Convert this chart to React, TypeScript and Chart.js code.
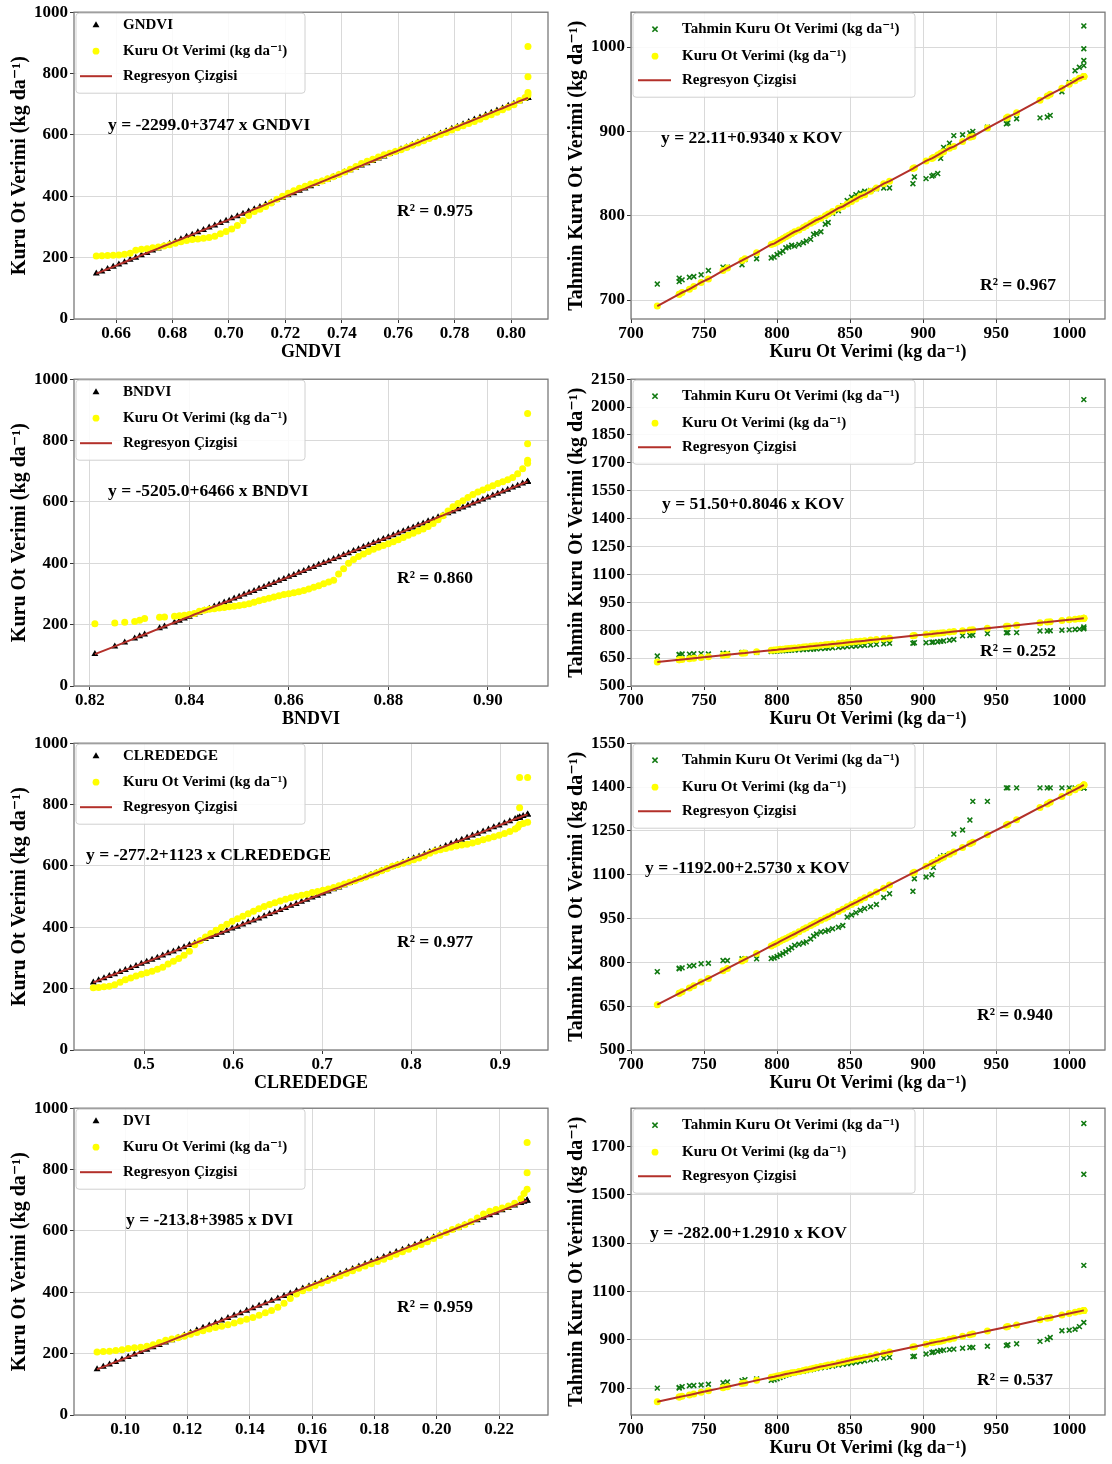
import React, { useEffect, useRef } from "react";
import { Chart, registerables } from "chart.js";

Chart.register(...registerables);

// ---------------- data ----------------
// Left column: vegetation index (sorted) vs predicted (on regression line) and observed dry hay yield (sorted)
const gndvi = [0.653, 0.655, 0.657, 0.659, 0.661, 0.663, 0.665, 0.667, 0.669, 0.671,
  0.673, 0.675, 0.677, 0.679, 0.681, 0.683, 0.685, 0.687, 0.689, 0.691,
  0.693, 0.695, 0.697, 0.699, 0.701, 0.703, 0.705, 0.707, 0.709, 0.711,
  0.713, 0.715, 0.717, 0.719, 0.721, 0.723, 0.725, 0.727, 0.729, 0.731,
  0.733, 0.735, 0.737, 0.739, 0.741, 0.743, 0.745, 0.747, 0.749, 0.751,
  0.753, 0.755, 0.757, 0.759, 0.761, 0.763, 0.765, 0.767, 0.769, 0.771,
  0.773, 0.775, 0.777, 0.779, 0.781, 0.783, 0.785, 0.787, 0.789, 0.791,
  0.793, 0.795, 0.797, 0.799, 0.801, 0.803, 0.805, 0.806, 0.806, 0.806,
  0.806];
const gndviPredicted = [148, 155, 163, 170, 178, 185, 193, 200, 208, 215,
  223, 230, 238, 245, 253, 260, 268, 275, 283, 290,
  298, 305, 313, 320, 328, 335, 343, 350, 358, 365,
  373, 380, 388, 395, 403, 410, 418, 425, 433, 440,
  448, 455, 463, 470, 478, 485, 493, 500, 508, 515,
  523, 530, 538, 545, 553, 560, 568, 575, 583, 590,
  597, 605, 612, 620, 627, 635, 642, 650, 657, 665,
  672, 680, 687, 695, 702, 710, 717, 721, 721, 721,
  721];
const gndviObserved = [205, 206, 207, 208, 209, 211, 214, 224, 227, 229,
  232, 235, 238, 242, 247, 252, 256, 259, 261, 263,
  266, 270, 278, 285, 293, 305, 320, 337, 350, 358,
  367, 378, 390, 400, 410, 418, 426, 433, 440, 445,
  450, 457, 464, 471, 479, 488, 497, 507, 514, 521,
  528, 535, 540, 546, 552, 559, 566, 574, 581, 588,
  595, 601, 608, 616, 623, 630, 637, 644, 651, 659,
  666, 674, 682, 690, 698, 712, 722, 730, 738, 790,
  888];

const bndvi = [0.821, 0.825, 0.827, 0.829, 0.830, 0.831, 0.834, 0.835, 0.837, 0.838,
  0.839, 0.840, 0.841, 0.842, 0.843, 0.844, 0.845, 0.846, 0.847, 0.848,
  0.849, 0.850, 0.851, 0.852, 0.853, 0.854, 0.855, 0.856, 0.857, 0.858,
  0.859, 0.860, 0.861, 0.862, 0.863, 0.864, 0.865, 0.866, 0.867, 0.868,
  0.869, 0.870, 0.871, 0.872, 0.873, 0.874, 0.875, 0.876, 0.877, 0.878,
  0.879, 0.880, 0.881, 0.882, 0.883, 0.884, 0.885, 0.886, 0.887, 0.888,
  0.889, 0.890, 0.891, 0.892, 0.893, 0.894, 0.895, 0.896, 0.897, 0.898,
  0.899, 0.900, 0.901, 0.902, 0.903, 0.904, 0.905, 0.906, 0.907, 0.908,
  0.908, 0.908, 0.908];
const bndviPredicted = [104, 129, 142, 155, 162, 168, 188, 194, 207, 213,
  220, 226, 233, 239, 246, 252, 259, 265, 272, 278,
  285, 291, 298, 304, 310, 317, 323, 330, 336, 343,
  349, 356, 362, 369, 375, 382, 388, 395, 401, 407,
  414, 420, 427, 433, 440, 446, 453, 459, 466, 472,
  479, 485, 491, 498, 504, 511, 517, 524, 530, 537,
  543, 550, 556, 563, 569, 576, 582, 588, 595, 601,
  608, 614, 621, 627, 634, 640, 647, 653, 660, 666,
  666, 666, 666];
const bndviObserved = [203, 205, 208, 210, 214, 220, 224, 225, 227, 229,
  231, 233, 236, 244, 247, 250, 252, 254, 256, 258,
  260, 262, 265, 268, 273, 278, 282, 286, 290, 294,
  298, 301, 304, 307, 311, 316, 322, 327, 333, 339,
  345, 365, 382, 400, 412, 422, 430, 438, 446, 452,
  458, 464, 470, 477, 484, 491, 498, 505, 512, 520,
  530, 542, 555, 570, 584, 595, 604, 614, 624, 632,
  639, 646, 653, 660, 666, 672, 680, 692, 708, 726,
  736, 790, 888];

const clrededge = [0.443, 0.449, 0.455, 0.461, 0.467, 0.473, 0.479, 0.485, 0.491, 0.497,
  0.503, 0.509, 0.515, 0.521, 0.527, 0.533, 0.539, 0.545, 0.551, 0.557,
  0.563, 0.569, 0.575, 0.581, 0.587, 0.593, 0.599, 0.605, 0.611, 0.617,
  0.623, 0.629, 0.635, 0.641, 0.647, 0.653, 0.659, 0.665, 0.671, 0.677,
  0.683, 0.689, 0.695, 0.701, 0.707, 0.713, 0.719, 0.725, 0.731, 0.737,
  0.743, 0.749, 0.755, 0.761, 0.767, 0.773, 0.779, 0.785, 0.791, 0.797,
  0.803, 0.809, 0.815, 0.821, 0.827, 0.833, 0.839, 0.845, 0.851, 0.857,
  0.863, 0.869, 0.875, 0.881, 0.887, 0.893, 0.899, 0.905, 0.911, 0.917,
  0.920, 0.922, 0.922, 0.922, 0.926, 0.931, 0.931];
const clrededgePredicted = [220, 227, 234, 241, 247, 254, 261, 267, 274, 281,
  288, 294, 301, 308, 315, 321, 328, 335, 342, 348,
  355, 362, 369, 375, 382, 389, 396, 402, 409, 416,
  422, 429, 436, 443, 449, 456, 463, 470, 476, 483,
  490, 497, 503, 510, 517, 524, 530, 537, 544, 551,
  557, 564, 571, 577, 584, 591, 598, 604, 611, 618,
  625, 631, 638, 645, 652, 658, 665, 672, 679, 685,
  692, 699, 705, 712, 719, 726, 732, 739, 746, 753,
  756, 758, 758, 758, 763, 768, 768];
const clrededgeObserved = [203, 204, 206, 208, 213, 221, 229, 235, 241, 247,
  252, 257, 263, 270, 280, 289, 298, 309, 322, 343,
  356, 368, 380, 390, 400, 410, 420, 428, 436, 444,
  452, 460, 468, 474, 480, 486, 491, 496, 500, 504,
  508, 513, 517, 521, 525, 530, 535, 541, 547, 552,
  558, 564, 570, 577, 584, 591, 599, 604, 609, 614,
  620, 626, 632, 641, 649, 653, 657, 661, 665, 668,
  671, 675, 680, 685, 690, 695, 700, 706, 712, 720,
  726, 735, 790, 888, 738, 742, 888];

const dvi = [0.091, 0.093, 0.095, 0.097, 0.099, 0.101, 0.103, 0.105, 0.107, 0.109,
  0.111, 0.113, 0.115, 0.117, 0.119, 0.121, 0.123, 0.125, 0.127, 0.129,
  0.131, 0.133, 0.135, 0.137, 0.139, 0.141, 0.143, 0.145, 0.147, 0.149,
  0.151, 0.153, 0.155, 0.157, 0.159, 0.161, 0.163, 0.165, 0.167, 0.169,
  0.171, 0.173, 0.175, 0.177, 0.179, 0.181, 0.183, 0.185, 0.187, 0.189,
  0.191, 0.193, 0.195, 0.197, 0.199, 0.201, 0.203, 0.205, 0.207, 0.209,
  0.211, 0.213, 0.215, 0.217, 0.219, 0.221, 0.223, 0.225, 0.227, 0.228,
  0.229, 0.229, 0.229];
const dviPredicted = [149, 157, 165, 173, 181, 189, 197, 205, 213, 221,
  228, 236, 244, 252, 260, 268, 276, 284, 292, 300,
  308, 316, 324, 332, 340, 348, 356, 364, 372, 380,
  388, 396, 404, 412, 420, 428, 436, 444, 452, 460,
  468, 476, 484, 492, 500, 507, 515, 523, 531, 539,
  547, 555, 563, 571, 579, 587, 595, 603, 611, 619,
  627, 635, 643, 651, 659, 667, 675, 683, 691, 695,
  699, 699, 699];
const dviObserved = [205, 207, 208, 210, 213, 217, 219, 221, 224, 229,
  236, 244, 248, 252, 257, 263, 269, 275, 280, 285,
  289, 294, 300, 306, 312, 318, 325, 333, 341, 351,
  364, 380, 394, 405, 414, 422, 430, 438, 446, 454,
  462, 470, 478, 486, 493, 500, 508, 516, 524, 532,
  540, 548, 556, 565, 575, 585, 595, 605, 613, 620,
  630, 642, 655, 664, 670, 675, 681, 690, 705, 722,
  736, 790, 888];

// Right column: actual dry hay yield (KOV) vs model estimate and regression fit
const kovActual = [718, 733, 733, 735, 740, 743, 748, 753, 763, 766,
  776, 778, 786, 796, 798, 800, 802, 804, 806, 808,
  810, 812, 815, 818, 820, 823, 825, 827, 830, 833,
  835, 838, 842, 845, 848, 851, 854, 857, 860, 864,
  868, 873, 877, 893, 894, 902, 906, 907, 910, 912,
  914, 918, 921, 927, 932, 934, 944, 957, 958, 964,
  980, 985, 987, 995, 1000, 1004, 1007, 1010, 1010, 1010,
  1010];

const estGNDVI = [719, 726, 722, 724, 727, 728, 730, 735, 739, 739,
  742, 748, 749, 750, 751, 754, 756, 758, 762, 763,
  765, 764, 766, 768, 770, 772, 778, 779, 781, 790,
  792, 803, 806, 812, 818, 822, 825, 827, 829, 830,
  832, 833, 833, 838, 846, 844, 847, 848, 850, 868,
  881, 886, 895, 896, 898, 900, 905, 909, 910, 915,
  916, 917, 919, 947, 958, 972, 976, 978, 984, 998,
  1025];
const fitGNDVI = [693, 707, 707, 709, 713, 716, 721, 725, 735, 738,
  747, 749, 756, 766, 767, 769, 771, 773, 775, 777,
  779, 781, 783, 786, 788, 791, 793, 795, 797, 800,
  802, 805, 809, 811, 814, 817, 820, 823, 825, 829,
  833, 838, 841, 856, 857, 865, 868, 869, 872, 874,
  876, 880, 882, 888, 893, 894, 904, 916, 917, 922,
  937, 942, 944, 951, 956, 960, 963, 965, 965, 965,
  965];

const estBNDVI = [661, 670, 668, 672, 671, 673, 674, 672, 676, 675,
  680, 679, 681, 686, 687, 688, 689, 690, 691, 692,
  693, 694, 695, 696, 697, 698, 699, 700, 701, 703,
  704, 706, 708, 710, 712, 713, 715, 717, 719, 721,
  724, 727, 730, 730, 733, 733, 735, 736, 738, 740,
  742, 746, 750, 770, 772, 774, 782, 786, 787, 787,
  796, 796, 797, 800, 802, 804, 806, 808, 812, 818,
  2040];
const fitBNDVI = [629, 641, 641, 643, 647, 649, 653, 657, 665, 668,
  676, 677, 684, 692, 694, 695, 697, 698, 700, 702,
  703, 705, 707, 710, 711, 714, 715, 717, 719, 722,
  723, 726, 729, 731, 734, 736, 739, 741, 743, 747,
  750, 754, 757, 770, 771, 777, 780, 781, 784, 785,
  787, 790, 793, 797, 801, 803, 811, 821, 822, 827,
  840, 844, 846, 852, 856, 859, 862, 864, 864, 864,
  864];

const estCLREDEDGE = [768, 780, 778, 781, 787, 789, 795, 797, 806, 806,
  812, 812, 812, 813, 815, 820, 825, 830, 836, 843,
  850, 858, 862, 866, 870, 880, 890, 897, 904, 906,
  910, 915, 920, 926, 955, 962, 970, 978, 984, 990,
  998, 1022, 1035, 1043, 1086, 1092, 1100, 1125, 1150, 1160,
  1165, 1170, 1239, 1253, 1287, 1351, 1351, 1397, 1397, 1397,
  1397, 1397, 1397, 1397, 1397, 1397, 1397, 1397, 1397, 1397,
  1397];
const fitCLREDEDGE = [655, 694, 694, 699, 712, 720, 733, 745, 771, 779,
  805, 810, 830, 856, 861, 866, 872, 877, 882, 887,
  892, 897, 905, 913, 918, 926, 931, 936, 944, 951,
  956, 964, 974, 982, 990, 998, 1005, 1013, 1021, 1031,
  1041, 1054, 1065, 1106, 1108, 1129, 1139, 1142, 1149, 1155,
  1160, 1170, 1178, 1193, 1206, 1211, 1237, 1270, 1273, 1288,
  1330, 1342, 1348, 1368, 1381, 1391, 1399, 1407, 1407, 1407,
  1407];

const estDVI = [701, 701, 704, 707, 711, 712, 714, 717, 723, 726,
  732, 736, 739, 733, 735, 740, 745, 750, 755, 758,
  762, 765, 768, 771, 774, 777, 780, 782, 785, 788,
  790, 792, 796, 799, 802, 805, 808, 811, 814, 818,
  821, 825, 828, 831, 833, 842, 848, 850, 853, 856,
  858, 860, 862, 866, 869, 869, 874, 877, 880, 884,
  894, 902, 910, 938, 940, 944, 955, 972, 1208, 1584,
  1794];
const fitDVI = [645, 664, 664, 667, 673, 677, 684, 690, 703, 707,
  720, 722, 733, 746, 748, 751, 753, 756, 759, 761,
  764, 766, 770, 774, 777, 780, 783, 786, 790, 793,
  796, 800, 805, 809, 813, 817, 821, 824, 828, 833,
  839, 845, 850, 871, 872, 882, 888, 889, 893, 895,
  898, 903, 907, 915, 921, 924, 937, 953, 955, 962,
  983, 990, 992, 1003, 1009, 1014, 1018, 1022, 1022, 1022,
  1022];

// tick labels
const yieldTicks = [0, 200, 400, 600, 800, 1000];
const gndviTicks = [0.66, 0.68, 0.70, 0.72, 0.74, 0.76, 0.78, 0.80];
const bndviTicks = [0.82, 0.84, 0.86, 0.88, 0.90];
const clrededgeTicks = [0.5, 0.6, 0.7, 0.8, 0.9];
const dviTicks = [0.10, 0.12, 0.14, 0.16, 0.18, 0.20, 0.22];
const kovTicks = [700, 750, 800, 850, 900, 950, 1000];
const estGNDVITicks = [700, 800, 900, 1000];
const estBNDVITicks = [500, 650, 800, 950, 1100, 1250, 1400, 1550, 1700, 1850, 2000, 2150];
const estCLREDEDGETicks = [500, 650, 800, 950, 1100, 1250, 1400, 1550];
const estDVITicks = [700, 900, 1100, 1300, 1500, 1700];

// ---------------- styling / layout ----------------
const FONT = "'Liberation Serif', 'Times New Roman', 'DejaVu Serif', serif";
const YELLOW = "#ffff00";
const GREEN = "#127a12";
const RED = "#b3302a";
const GRID = "#d9d9d9";
const FRAME = "#7a7a7a";
const W = 556;
const H = 366;
const ROW_TOPS = [0, 367, 731, 1096];
const LEFT_AREA = { left: 74, right: 548, top: 11, bottom: 319 };
const RIGHT_AREA = { left: 75, right: 549, top: 11, bottom: 319 };
const OBS_LABEL = "Kuru Ot Verimi (kg da\u207B\u00B9)";
const EST_LABEL = "Tahmin Kuru Ot Verimi (kg da\u207B\u00B9)";
const LINE_LABEL = "Regresyon \u00C7izgisi";

type Kind = "index" | "kov";
interface PanelSpec {
  x: number;
  y: number;
  kind: Kind;
  xs: number[];
  a: number[];
  b: number[];
  xRange: [number, number];
  yRange: [number, number];
  xTicks: number[];
  yTicks: number[];
  xDec: number;
  xTitle: string;
  yTitle: string;
  firstLabel: string;
  eq: string;
  r2: string;
  eqAt: [number, number];
  r2At: [number, number];
}

const PANELS: PanelSpec[] = [
  {
    x: 0, y: ROW_TOPS[0], kind: "index", xs: gndvi, a: gndviPredicted, b: gndviObserved,
    xRange: [0.6451, 0.8131], yRange: [0, 1000], xTicks: gndviTicks, yTicks: yieldTicks, xDec: 2,
    xTitle: "GNDVI", yTitle: OBS_LABEL, firstLabel: "GNDVI",
    eq: "y = -2299.0+3747 x GNDVI", r2: "R\u00B2 = 0.975", eqAt: [34, 113], r2At: [323, 199],
  },
  {
    x: W, y: ROW_TOPS[0], kind: "kov", xs: kovActual, a: estGNDVI, b: fitGNDVI,
    xRange: [700, 1024.5], yRange: [677.6, 1041.3], xTicks: kovTicks, yTicks: estGNDVITicks, xDec: 0,
    xTitle: OBS_LABEL, yTitle: EST_LABEL, firstLabel: EST_LABEL,
    eq: "y = 22.11+0.9340 x KOV", r2: "R\u00B2 = 0.967", eqAt: [30, 126], r2At: [349, 273],
  },
  {
    x: 0, y: ROW_TOPS[1], kind: "index", xs: bndvi, a: bndviPredicted, b: bndviObserved,
    xRange: [0.8168, 0.9121], yRange: [0, 1000], xTicks: bndviTicks, yTicks: yieldTicks, xDec: 2,
    xTitle: "BNDVI", yTitle: OBS_LABEL, firstLabel: "BNDVI",
    eq: "y = -5205.0+6466 x BNDVI", r2: "R\u00B2 = 0.860", eqAt: [34, 112], r2At: [323, 199],
  },
  {
    x: W, y: ROW_TOPS[1], kind: "kov", xs: kovActual, a: estBNDVI, b: fitBNDVI,
    xRange: [700, 1024.5], yRange: [500, 2150], xTicks: kovTicks, yTicks: estBNDVITicks, xDec: 0,
    xTitle: OBS_LABEL, yTitle: EST_LABEL, firstLabel: EST_LABEL,
    eq: "y = 51.50+0.8046 x KOV", r2: "R\u00B2 = 0.252", eqAt: [31, 125], r2At: [349, 272],
  },
  {
    x: 0, y: ROW_TOPS[2], kind: "index", xs: clrededge, a: clrededgePredicted, b: clrededgeObserved,
    xRange: [0.4213, 0.9539], yRange: [0, 1000], xTicks: clrededgeTicks, yTicks: yieldTicks, xDec: 1,
    xTitle: "CLREDEDGE", yTitle: OBS_LABEL, firstLabel: "CLREDEDGE",
    eq: "y = -277.2+1123 x CLREDEDGE", r2: "R\u00B2 = 0.977", eqAt: [12, 112], r2At: [323, 199],
  },
  {
    x: W, y: ROW_TOPS[2], kind: "kov", xs: kovActual, a: estCLREDEDGE, b: fitCLREDEDGE,
    xRange: [700, 1024.5], yRange: [500, 1550], xTicks: kovTicks, yTicks: estCLREDEDGETicks, xDec: 0,
    xTitle: OBS_LABEL, yTitle: EST_LABEL, firstLabel: EST_LABEL,
    eq: "y = -1192.00+2.5730 x KOV", r2: "R\u00B2 = 0.940", eqAt: [14, 125], r2At: [346, 272],
  },
  {
    x: 0, y: ROW_TOPS[3], kind: "index", xs: dvi, a: dviPredicted, b: dviObserved,
    xRange: [0.0836, 0.2357], yRange: [0, 1000], xTicks: dviTicks, yTicks: yieldTicks, xDec: 2,
    xTitle: "DVI", yTitle: OBS_LABEL, firstLabel: "DVI",
    eq: "y = -213.8+3985 x DVI", r2: "R\u00B2 = 0.959", eqAt: [52, 112], r2At: [323, 199],
  },
  {
    x: W, y: ROW_TOPS[3], kind: "kov", xs: kovActual, a: estDVI, b: fitDVI,
    xRange: [700, 1024.5], yRange: [590, 1857], xTicks: kovTicks, yTicks: estDVITicks, xDec: 0,
    xTitle: OBS_LABEL, yTitle: EST_LABEL, firstLabel: EST_LABEL,
    eq: "y = -282.00+1.2910 x KOV", r2: "R\u00B2 = 0.537", eqAt: [19, 125], r2At: [346, 272],
  },
];

const LEGEND_GEOM = {
  index: { bx: 2, by: 1, bw: 229, bh: 80, rows: [13, 39, 64], mx: 22, l0: 6, l1: 38, tx: 49 },
  kov: { bx: 2, by: 1, bw: 282, bh: 84, rows: [17, 44, 68], mx: 24, l0: 7, l1: 40, tx: 51 },
};

function roundedRect(ctx: CanvasRenderingContext2D, x: number, y: number, w: number, h: number, r: number) {
  ctx.beginPath();
  ctx.moveTo(x + r, y);
  ctx.lineTo(x + w - r, y);
  ctx.arcTo(x + w, y, x + w, y + r, r);
  ctx.lineTo(x + w, y + h - r);
  ctx.arcTo(x + w, y + h, x + w - r, y + h, r);
  ctx.lineTo(x + r, y + h);
  ctx.arcTo(x, y + h, x, y + h - r, r);
  ctx.lineTo(x, y + r);
  ctx.arcTo(x, y, x + r, y, r);
  ctx.closePath();
}

function decorPlugin(s: PanelSpec) {
  return {
    id: "decor",
    afterDatasetsDraw(chart: any) {
      const ctx: CanvasRenderingContext2D = chart.ctx;
      const a = chart.chartArea;
      const g = LEGEND_GEOM[s.kind];
      ctx.save();
      // axes frame
      ctx.strokeStyle = FRAME;
      ctx.lineWidth = 1.3;
      ctx.strokeRect(a.left, a.top, a.right - a.left, a.bottom - a.top);
      // legend box
      roundedRect(ctx, a.left + g.bx, a.top + g.by, g.bw, g.bh, 3);
      ctx.fillStyle = "rgba(255,255,255,0.85)";
      ctx.fill();
      ctx.strokeStyle = "#d0d0d0";
      ctx.lineWidth = 1;
      ctx.stroke();
      const labels = [s.firstLabel, OBS_LABEL, LINE_LABEL];
      const mx = a.left + g.mx;
      g.rows.forEach((ry, i) => {
        const cy = a.top + ry;
        if (i === 0) {
          if (s.kind === "index") {
            const r = 4;
            ctx.beginPath();
            ctx.moveTo(mx, cy - r);
            ctx.lineTo(mx + r * 0.866, cy + r / 2);
            ctx.lineTo(mx - r * 0.866, cy + r / 2);
            ctx.closePath();
            ctx.fillStyle = "#000";
            ctx.fill();
          } else {
            const r = 2.6;
            ctx.beginPath();
            ctx.moveTo(mx - r, cy - r);
            ctx.lineTo(mx + r, cy + r);
            ctx.moveTo(mx + r, cy - r);
            ctx.lineTo(mx - r, cy + r);
            ctx.strokeStyle = GREEN;
            ctx.lineWidth = 1.6;
            ctx.stroke();
          }
        } else if (i === 1) {
          ctx.beginPath();
          ctx.arc(mx, cy, 3.4, 0, Math.PI * 2);
          ctx.fillStyle = YELLOW;
          ctx.fill();
        } else {
          ctx.beginPath();
          ctx.moveTo(a.left + g.l0, cy);
          ctx.lineTo(a.left + g.l1, cy);
          ctx.strokeStyle = RED;
          ctx.lineWidth = 2;
          ctx.stroke();
        }
        ctx.fillStyle = "#000";
        ctx.font = `bold 15px ${FONT}`;
        ctx.textAlign = "left";
        ctx.textBaseline = "middle";
        ctx.fillText(labels[i], a.left + g.tx, cy);
      });
      // annotations
      ctx.font = `bold 17.5px ${FONT}`;
      ctx.fillStyle = "#000";
      ctx.textBaseline = "middle";
      ctx.fillText(s.eq, a.left + s.eqAt[0], a.top + s.eqAt[1]);
      ctx.fillText(s.r2, a.left + s.r2At[0], a.top + s.r2At[1]);
      ctx.restore();
    },
  };
}

function makeConfig(s: PanelSpec): any {
  const idx = s.kind === "index";
  const area = idx ? LEFT_AREA : RIGHT_AREA;
  const pts = (ys: number[]) => s.xs.map((x, i) => ({ x, y: ys[i] }));
  const lineYs = idx ? s.a : s.b;
  const tickFont = { family: FONT, size: 17, weight: "bold" };
  return {
    type: "scatter",
    data: {
      datasets: [
        {
          label: s.firstLabel,
          data: pts(s.a),
          order: 3,
          showLine: false,
          pointStyle: idx ? "triangle" : "crossRot",
          pointRadius: idx ? 4 : 3.4,
          pointBackgroundColor: idx ? "#000" : GREEN,
          pointBorderColor: idx ? "#000" : GREEN,
          pointBorderWidth: idx ? 0 : 1.6,
        },
        {
          label: OBS_LABEL,
          data: pts(s.b),
          order: 2,
          showLine: false,
          pointStyle: "circle",
          pointRadius: 3.5,
          pointBackgroundColor: YELLOW,
          pointBorderColor: YELLOW,
          pointBorderWidth: 0,
        },
        {
          label: LINE_LABEL,
          data: pts(lineYs),
          order: 1,
          showLine: true,
          pointRadius: 0,
          borderColor: RED,
          borderWidth: 2,
          fill: false,
        },
      ],
    },
    options: {
      responsive: false,
      animation: false,
      devicePixelRatio: 1,
      events: [],
      layout: { padding: { left: 0, top: area.top, right: W - area.right, bottom: 0 } },
      plugins: { legend: { display: false }, tooltip: { enabled: false } },
      scales: {
        x: {
          type: "linear",
          min: s.xRange[0],
          max: s.xRange[1],
          afterBuildTicks: (sc: any) => {
            sc.ticks = s.xTicks.map((v) => ({ value: v }));
          },
          afterFit: (sc: any) => {
            sc.height = H - area.bottom;
          },
          border: { display: false },
          grid: { color: GRID, lineWidth: 1, tickColor: "#333", tickLength: 4, drawTicks: true },
          ticks: {
            color: "#000",
            font: tickFont,
            padding: 0,
            maxRotation: 0,
            autoSkip: false,
            callback: (v: any) => Number(v).toFixed(s.xDec),
          },
          title: {
            display: true,
            text: s.xTitle,
            color: "#000",
            font: { family: FONT, size: 18, weight: "bold" },
            padding: { top: 0, bottom: 3 },
          },
        },
        y: {
          type: "linear",
          min: s.yRange[0],
          max: s.yRange[1],
          afterBuildTicks: (sc: any) => {
            sc.ticks = s.yTicks.map((v) => ({ value: v }));
          },
          afterFit: (sc: any) => {
            sc.width = area.left;
          },
          border: { display: false },
          grid: { color: GRID, lineWidth: 1, tickColor: "#333", tickLength: 4, drawTicks: true },
          ticks: {
            color: "#000",
            font: tickFont,
            padding: 2,
            autoSkip: false,
            callback: (v: any) => String(v),
          },
          title: {
            display: true,
            text: s.yTitle,
            color: "#000",
            font: { family: FONT, size: 20, weight: "bold" },
            padding: { top: idx ? 8 : 9, bottom: 0 },
          },
        },
      },
    },
    plugins: [decorPlugin(s)],
  };
}

function Panel({ spec }: { spec: PanelSpec }) {
  const ref = useRef<HTMLCanvasElement | null>(null);
  useEffect(() => {
    const canvas = ref.current;
    if (!canvas) return;
    const chart = new Chart(canvas, makeConfig(spec));
    return () => chart.destroy();
  }, [spec]);
  return (
    <canvas
      ref={ref}
      width={W}
      height={H}
      style={{ position: "absolute", left: spec.x, top: spec.y, width: W, height: H }}
    />
  );
}

export default function App() {
  return (
    <div
      style={{
        position: "absolute",
        left: 0,
        top: 0,
        width: 1112,
        height: 1464,
        background: "#fff",
        overflow: "hidden",
      }}
    >
      {PANELS.map((s, i) => (
        <Panel key={i} spec={s} />
      ))}
    </div>
  );
}
